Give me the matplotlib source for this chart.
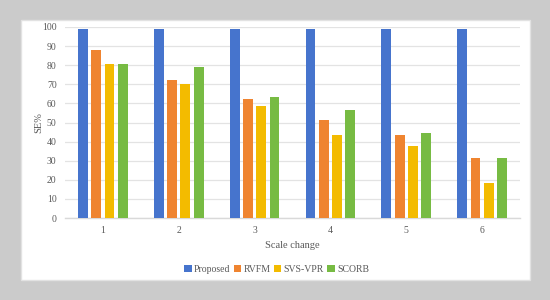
import matplotlib
matplotlib.use("Agg")
import matplotlib.pyplot as plt
import numpy as np
from matplotlib.patches import Rectangle

groups   = ["1", "2", "3", "4", "5", "6"]
proposed = [99, 99, 99, 99, 99, 99]
rvfm     = [88, 72.5, 62.5, 51.5, 43.5, 31.5]
svsvpr   = [80.5, 70, 58.5, 43.5, 37.5, 18.5]
scorb    = [80.5, 79, 63.5, 56.5, 44.5, 31.5]
series = [("Proposed", proposed, "#4674CD"),
          ("RVFM", rvfm, "#EF8430"),
          ("SVS-VPR", svsvpr, "#F3BB00"),
          ("SCORB", scorb, "#77BB43")]

plt.rcParams["font.family"] = ["Liberation Serif", "DejaVu Serif"]
fig = plt.figure(figsize=(5.5, 3.0), dpi=100)
fig.patch.set_facecolor("#cbcbcb")
# white card behind the chart
card = Rectangle((21/550, 1-280/300), 509/550, 260/300,
                 transform=fig.transFigure, facecolor="white",
                 edgecolor="#e2e2e2", lw=1.0, zorder=-10)
fig.add_artist(card)

ax = fig.add_axes([65/550, 1-218/300, 455/550, 191/300])
ax.set_zorder(1)
ax.set_facecolor("none")
x = np.arange(len(groups))
step, w = 0.175, 0.13
for i, (name, vals, col) in enumerate(series):
    ax.bar(x + (i - 1.5) * step, vals, width=w, color=col, label=name, zorder=3)

ax.set_xlim(-0.5, len(groups) - 0.5)
ax.set_ylim(0, 100)
ax.set_yticks(range(0, 101, 10))
ax.set_xticks(x)
ax.set_xticklabels(groups)
ax.yaxis.grid(True, color="#e3e3e3", lw=0.9, zorder=0)
ax.tick_params(length=0, labelsize=7, colors="#595959", pad=6)
ax.tick_params(axis="y", pad=6)
for sp in ("top", "right", "left"):
    ax.spines[sp].set_visible(False)
ax.spines["bottom"].set_color("#d9d9d9")
ax.spines["bottom"].set_linewidth(1.0)
ax.set_xlabel("Scale change", fontsize=7.5, color="#595959", labelpad=4)
ax.set_ylabel("SE%", fontsize=7.5, color="#595959", labelpad=-1)
ax.legend(loc="upper center", bbox_to_anchor=(0.465, -0.2), ncol=4, frameon=False,
          fontsize=7, handlelength=0.75, handleheight=0.75, handletextpad=0.25,
          columnspacing=0.35, labelcolor="#595959")

fig.savefig("out.png", dpi=100, facecolor=fig.get_facecolor())
